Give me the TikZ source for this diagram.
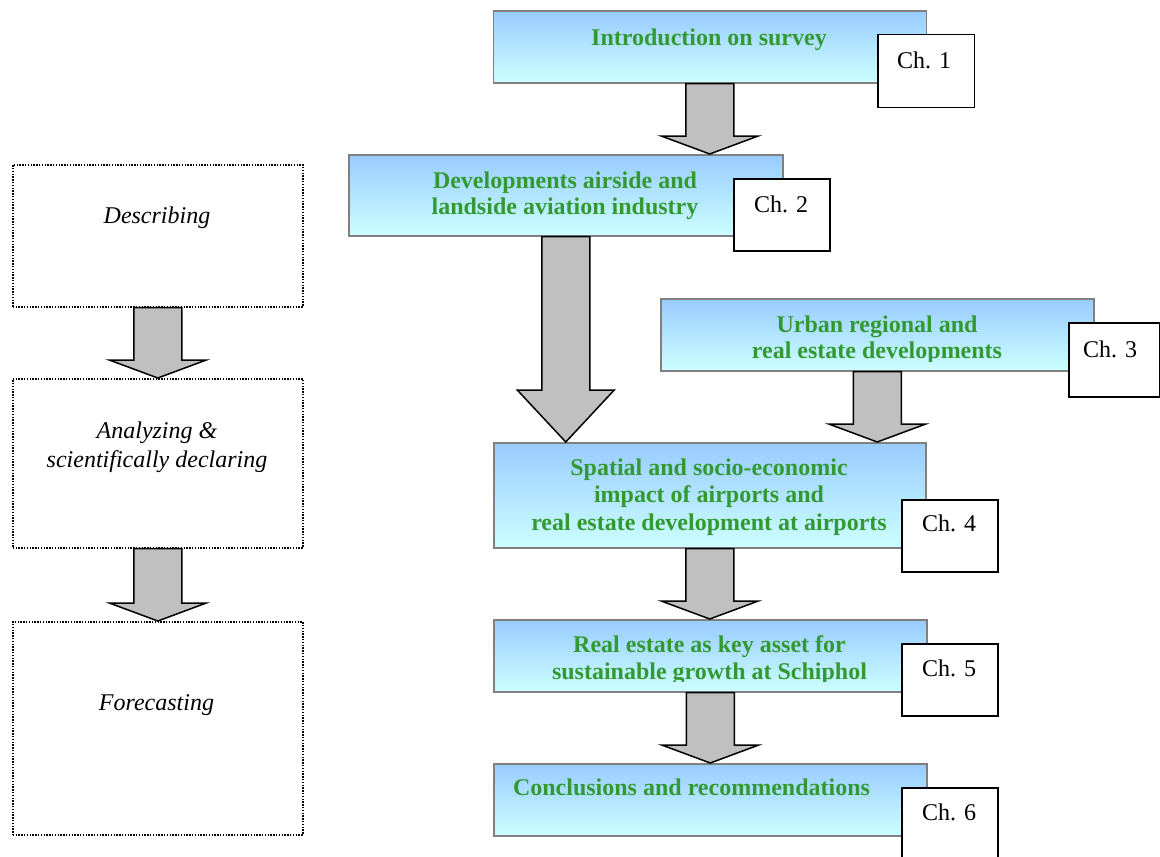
\documentclass[tikz,border=0pt]{standalone}
\usepackage{fontspec}
\setmainfont{Liberation Serif}
\usetikzlibrary{calc}
\definecolor{boxgreen}{RGB}{51,153,51}
\definecolor{gradtop}{RGB}{153,204,255}
\definecolor{gradbot}{RGB}{204,255,255}
\definecolor{boxedge}{RGB}{128,128,128}
\definecolor{arrowfill}{RGB}{192,192,192}
\newcommand\mlines[1]{\begin{tabular}[t]{@{}c@{}}#1\end{tabular}}
\newcommand\blkarrow[3]{%
  \draw[blockarrow] ($(#1.south)+(-24,0)$) -- ($(#1.south |- #2.north)+(-24,-#3)$)
    -- ++(-24.5,0) -- (#1.south |- #2.north) -- ++(48.5,-#3) -- ++(-24.5,0)
    -- ($(#1.south)+(24,0)$) -- cycle;}
\tikzset{
  mainbox/.style={draw=boxedge, line width=1.5pt, top color=gradtop, bottom color=gradbot,
    rectangle, inner sep=0pt, anchor=north west},
  chbox/.style={draw=black, line width=1.5pt, fill=white, rectangle, inner sep=0pt, anchor=north west},
  phasebox/.style={draw=black, line width=1.6pt, dash pattern=on 1.4pt off 1.4pt,
    rectangle, inner sep=0pt, anchor=north west},
  maintext/.style={text=boxgreen, font=\fontsize{24}{26}\selectfont\bfseries, inner sep=0pt, anchor=base},
  chtext/.style={text=black, font=\fontsize{24}{26}\selectfont, inner sep=0pt, anchor=base},
  phasetext/.style={text=black, font=\fontsize{24}{29}\selectfont\itshape, inner sep=0pt, anchor=base},
  blockarrow/.style={draw=black, line width=1.5pt, fill=arrowfill, line join=miter},
}
\begin{document}
\begin{tikzpicture}[x=1pt, y=-1pt]
\clip (0,0) rectangle (1160,857);
\fill[white] (0,0) rectangle (1160,857);

% left phase boxes
\node[phasebox, minimum width=290pt, minimum height=142pt] (p1) at (12,164) {};
\node[phasebox, minimum width=290pt, minimum height=169pt] (p2) at (12,378) {};
\node[phasebox, minimum width=290pt, minimum height=213pt] (p3) at (12,621) {};
\node[phasetext] (p1t) at (157,223) {Describing};
\node[phasetext] (p2t) at (157,438) {\mlines{Analyzing \&\\scientifically declaring}};
\node[phasetext] (p3t) at (156.5,710) {Forecasting};

% main boxes
\node[mainbox, minimum width=433pt, minimum height=72pt] (b1) at (492.5,10) {};
\node[mainbox, minimum width=434pt, minimum height=81pt] (b2) at (348,154) {};
\node[mainbox, minimum width=433pt, minimum height=72pt] (b3) at (660,298) {};
\node[mainbox, minimum width=432pt, minimum height=105pt] (b4) at (493,442) {};
\node[mainbox, minimum width=433pt, minimum height=72pt] (b5) at (493,619) {};
\node[mainbox, minimum width=433pt, minimum height=72pt] (b6) at (493,763) {};

\node[maintext] (b1t) at (709,45) {Introduction on survey};
\node[maintext] (b2t) at (565,188) {\mlines{Developments airside and\\landside aviation industry}};
\begin{scope}
  \clip (660,298) rectangle (1093,361);
  \node[maintext] (b3t) at (877,332) {\mlines{Urban regional and\\real estate developments}};
\end{scope}
\node[maintext] (b4t) at (709,475) {\mlines{Spatial and socio-economic\\[1.5pt]impact of airports and\\[1.5pt]real estate development at airports}};
\begin{scope}
  \clip (493,619) rectangle (926,681);
  \node[maintext] (b5t) at (709.5,652) {\mlines{Real estate as key asset for\\[1pt]sustainable growth at Schiphol}};
\end{scope}
\node[maintext] (b6t) at (691.5,795) {Conclusions and recommendations};

% block arrows
\blkarrow{p1}{p2}{18}
\blkarrow{p2}{p3}{18}
\blkarrow{b1}{b2}{18}
\blkarrow{b2}{b4}{52}
\blkarrow{b3}{b4}{18}
\blkarrow{b4}{b5}{18}
\blkarrow{b5}{b6}{18}

% chapter boxes
\node[chbox, minimum width=96.5pt, minimum height=73pt] (c1) at (877,33.5) {};
\node[chbox, minimum width=96pt, minimum height=72pt] (c2) at (733,178) {};
\node[chbox, minimum width=91pt, minimum height=74pt] (c3) at (1068,322) {};
\node[chbox, minimum width=96pt, minimum height=72pt] (c4) at (901,499) {};
\node[chbox, minimum width=96pt, minimum height=72pt] (c5) at (901,643) {};
\node[chbox, minimum width=96pt, minimum height=72pt] (c6) at (901,787) {};

\node[chtext] (c1t) at (924,68) {Ch. 1};
\node[chtext] (c2t) at (781,212) {Ch. 2};
\node[chtext] (c3t) at (1110,357) {Ch. 3};
\node[chtext] (c4t) at (949,531) {Ch. 4};
\node[chtext] (c5t) at (949,676) {Ch. 5};
\node[chtext] (c6t) at (949,820) {Ch. 6};
\end{tikzpicture}
\end{document}
